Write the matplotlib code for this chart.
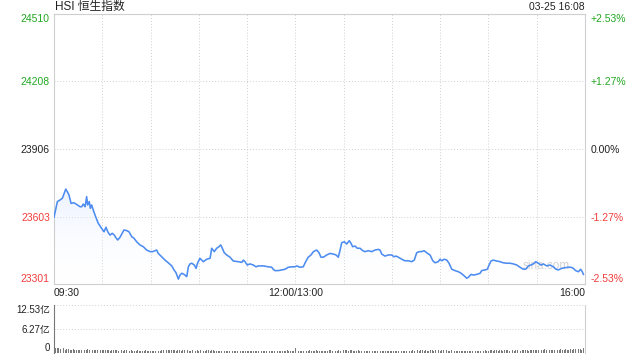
#!/usr/bin/env python3
"""HSI intraday chart (03-25) with minute volume panel."""

import numpy as np
import matplotlib
matplotlib.use("Agg")
import matplotlib.pyplot as plt
from matplotlib.colors import LinearSegmentedColormap

plt.rcParams["font.family"] = ["Liberation Sans", "Noto Sans CJK SC", "DejaVu Sans"]

# trading minutes since 09:30 (12:00 and 13:00 share minute 150)
minutes = [
    0, 2.1, 3.7, 5.2, 7.3, 8.3, 9.3, 10.6, 12.0, 13.1, 14.5, 16.2, 17.2, 18.2, 19.3,
    20.3, 20.9, 21.9, 22.6, 23.4, 24.4, 25.9, 27.5, 29.6, 31.1, 32.3, 33.4, 34.8,
    36.2, 37.5, 38.3, 39.6, 41.0, 42.4, 43.5, 45.2, 46.6, 48.3, 49.7, 51.4, 53.4,
    55.5, 57.6, 59.7, 61.3, 62.8, 63.8, 64.8, 66.9, 69.0, 71.0, 73.2, 74.6, 75.8,
    77.3, 78.3, 79.4, 80.4, 81.4, 82.5, 83.5, 84.5, 85.6, 87.2, 88.3, 89.3, 90.7,
    92.8, 94.9, 97.0, 98.0, 99.6, 101.1, 102.5, 103.6, 104.6, 105.8, 107.3, 109.4,
    111.4, 114.5, 116.7, 117.7, 118.7, 120.1, 121.8, 123.9, 125.5, 127.0, 130.1,
    133.2, 135.3, 136.3, 137.3, 139.4, 141.5, 143.6, 145.6, 147.7, 149.8, 150.8,
    152.9, 154.9, 156.4, 158.0, 159.7, 161.2, 163.3, 164.7, 165.9, 167.4, 169.5,
    171.5, 173.6, 175.3, 176.7, 177.8, 178.8, 180.4, 181.9, 183.5, 184.6, 185.6,
    187.1, 188.5, 190.2, 191.9, 193.3, 195.3, 197.5, 199.5, 201.6, 202.6, 203.7,
    205.7, 207.8, 209.9, 211.3, 212.6, 214.0, 216.1, 218.1, 220.2, 222.3, 223.9,
    225.4, 227.0, 228.5, 230.0, 231.6, 233.7, 235.4, 236.8, 238.8, 239.9, 241.0,
    242.4, 244.1, 245.5, 247.2, 249.2, 251.3, 253.0, 255.0, 256.5, 257.5, 259.2,
    260.6, 262.7, 264.8, 265.8, 267.9, 269.3, 270.4, 271.6, 273.0, 275.1, 277.2,
    279.2, 281.4, 283.4, 285.5, 287.6, 289.6, 291.7, 293.3, 294.8, 296.4, 297.9,
    299.4, 301.0, 302.7, 304.1, 306.2, 308.3, 310.3, 312.0, 313.4, 315.5, 317.6,
    319.6, 321.3, 322.8, 324.2, 325.9, 327.3, 328.3, 329.0,
]
price = [
    23600, 23670, 23677, 23685, 23726, 23714, 23700, 23662, 23665, 23662, 23655,
    23647, 23647, 23659, 23647, 23692, 23655, 23670, 23640, 23655, 23632, 23602,
    23573, 23550, 23535, 23555, 23535, 23520, 23528, 23520, 23510, 23498, 23510,
    23528, 23543, 23540, 23535, 23513, 23506, 23490, 23476, 23468, 23453, 23446,
    23446, 23450, 23453, 23438, 23423, 23408, 23396, 23382, 23364, 23352, 23323,
    23341, 23349, 23346, 23341, 23334, 23378, 23391, 23394, 23386, 23371, 23396,
    23416, 23401, 23412, 23416, 23461, 23446, 23461, 23468, 23476, 23461, 23441,
    23431, 23421, 23404, 23401, 23398, 23408, 23401, 23386, 23391, 23386, 23378,
    23382, 23382, 23378, 23376, 23367, 23361, 23361, 23364, 23367, 23376, 23378,
    23378, 23382, 23376, 23378, 23401, 23421, 23431, 23446, 23453, 23441, 23421,
    23421, 23431, 23438, 23435, 23431, 23421, 23453, 23486, 23490, 23480, 23495,
    23483, 23468, 23471, 23461, 23461, 23450, 23446, 23450, 23446, 23453, 23456,
    23453, 23435, 23426, 23431, 23431, 23423, 23426, 23421, 23412, 23405, 23405,
    23401, 23408, 23441, 23446, 23446, 23450, 23441, 23431, 23405, 23396, 23401,
    23412, 23405, 23412, 23408, 23394, 23367, 23361, 23356, 23349, 23337, 23327,
    23331, 23344, 23341, 23344, 23349, 23361, 23364, 23367, 23386, 23404, 23408,
    23404, 23401, 23396, 23394, 23394, 23391, 23386, 23376, 23367, 23368, 23382,
    23386, 23391, 23401, 23394, 23386, 23391, 23382, 23386, 23378, 23367, 23364,
    23371, 23374, 23376, 23376, 23371, 23361, 23356, 23367, 23356, 23344,
]

# volume per minute, in 亿 (minute 0 is the opening auction, 330 the closing one)
volume = [12.53] + [
    1.4, 1.2, 1.3, 1.1, 1.0, 1.2, 0.9, 1.0, 1.1, 0.8, 0.9, 1.0, 0.8, 0.9, 0.7,
    0.8, 0.9, 0.8, 0.7, 0.9, 1.0, 0.8, 0.7, 0.8, 0.9, 0.7, 0.8, 0.9, 0.8, 0.7,
    0.8, 0.7, 0.9, 0.8, 0.6, 0.7, 0.8, 0.9, 0.7, 0.6, 0.8, 0.7, 0.6, 0.7, 0.8,
    0.6, 0.5, 0.7, 0.6, 0.5, 0.6, 0.7, 0.5, 0.6, 0.5, 0.6, 0.7, 0.5, 0.4, 0.5,
    0.5, 0.6, 0.4, 0.5, 0.6, 0.5, 0.7, 0.8, 0.6, 0.7, 0.8, 0.7, 0.9, 0.8, 0.7,
    0.6, 0.8, 0.7, 0.6, 0.7, 0.8, 0.6, 0.7, 0.6, 0.5, 0.7, 0.8, 0.6, 0.7, 0.6,
    0.7, 0.6, 0.5, 0.6, 0.7, 0.8, 0.6, 0.7, 0.9, 0.6, 0.5, 0.6, 0.4, 0.5, 0.6,
    0.5, 0.4, 0.6, 0.5, 0.7, 0.6, 0.5, 0.6, 0.4, 0.5, 0.6, 0.5, 0.4, 0.5, 0.6,
    0.5, 0.4, 0.5, 0.4, 0.5, 0.6, 0.4, 0.5, 0.4, 0.5, 0.4, 0.5, 0.4, 0.4, 0.5,
    0.4, 0.5, 0.6, 0.5, 0.4, 0.5, 0.6, 0.5, 0.6, 0.7, 0.5, 0.6, 0.5, 0.6, 1.2,
    0.6, 0.5, 0.6, 0.5, 0.4, 0.5, 0.6, 0.5, 0.7, 0.6, 0.5, 0.6, 0.7, 0.5, 0.6,
    0.5, 0.4, 0.5, 0.6, 0.5, 0.7, 0.8, 0.6, 0.7, 0.5, 0.6, 0.7, 0.6, 0.8, 0.7,
    0.8, 0.7, 0.6, 0.8, 0.7, 0.6, 0.5, 0.6, 0.7, 0.5, 0.6, 0.5, 0.4, 0.5, 0.6,
    0.5, 0.4, 0.5, 0.4, 0.5, 0.6, 0.4, 0.5, 0.4, 0.5, 0.6, 0.5, 0.4, 0.5, 0.4,
    0.5, 0.4, 0.5, 0.6, 0.4, 0.5, 0.4, 0.5, 0.4, 0.5, 0.6, 0.5, 0.7, 0.6, 0.8,
    0.7, 0.6, 0.8, 0.7, 0.6, 0.7, 0.5, 0.6, 0.8, 0.7, 0.6, 0.8, 0.7, 0.9, 0.6,
    0.7, 0.8, 0.6, 0.7, 0.5, 0.6, 0.7, 0.5, 0.6, 0.5, 0.6, 0.4, 0.5, 0.6, 0.5,
    0.4, 0.5, 0.6, 0.4, 0.5, 0.6, 0.5, 0.4, 0.5, 0.6, 0.5, 0.6, 0.7, 0.5, 0.6,
    0.7, 0.8, 0.6, 0.7, 0.9, 0.6, 0.8, 0.7, 0.6, 0.8, 0.7, 0.9, 0.6, 0.7, 0.8,
    0.6, 0.7, 0.9, 0.8, 0.6, 0.7, 0.8, 0.9, 0.7, 0.6, 0.8, 0.9, 0.7, 0.8, 0.9,
    0.8, 0.7, 0.9, 0.8, 1.0, 0.7, 0.8, 0.9, 0.8, 0.7, 0.9, 1.0, 0.8, 0.9, 1.0,
    0.8, 0.9, 1.1, 0.9, 0.8, 1.0, 0.9, 1.1, 1.0, 0.9, 1.1, 1.0, 0.9, 1.2, 4.2,
]

price_ticks = [23301, 23603, 23906, 24208, 24510]
price_labels = ["23301", "23603", "23906", "24208", "24510"]
pct_labels = ["-2.53%", "-1.27%", "0.00%", "+1.27%", "+2.53%"]
x_tick_minutes = [0, 150, 330]
x_tick_labels = ["09:30", "12:00/13:00", "16:00"]
vol_ticks = [0, 6.27, 12.53]
vol_labels = ["0", "6.27亿", "12.53亿"]
title = "HSI 恒生指数"
stamp = "03-25 16:08"

GREEN = "#22a822"
RED = "#f23c3c"
DARK = "#222222"
GRID = "#cfcfcf"
LINE = "#4d8cf0"
label_colors = [RED, RED, DARK, GREEN, GREEN]

fig = plt.figure(figsize=(6.4, 3.6), dpi=100)
ax = fig.add_axes([54 / 640, 1 - 284 / 360, 531 / 640, 270 / 360])
axv = fig.add_axes([54 / 640, 1 - 353 / 360, 531 / 640, 48 / 360])

# price panel
ax.set_xlim(0, 330)
ax.set_ylim(price_ticks[0], price_ticks[-1])
ax.plot(minutes, price, color=LINE, linewidth=1.15, zorder=3)

fill = ax.fill_between(minutes, price, price_ticks[0], color="none")
cmap = LinearSegmentedColormap.from_list("fade", [(1, 1, 1, 0), (0.86, 0.91, 1.0, 0.55)])
grad = ax.imshow(np.linspace(0, 1, 256).reshape(-1, 1), cmap=cmap, aspect="auto",
                 origin="lower", extent=[0, 330, price_ticks[0], max(price)], zorder=2)
grad.set_clip_path(fill.get_paths()[0], transform=ax.transData)

ax.set_yticks(price_ticks)
ax.set_yticklabels(price_labels, fontsize=7.5)
for lbl, col in zip(ax.get_yticklabels(), label_colors):
    lbl.set_color(col)
ax.get_yticklabels()[0].set_va("bottom")
ax.get_yticklabels()[-1].set_va("top")

ax.set_xticks(np.arange(0, 331, 30))
ax.set_xticklabels([x_tick_labels[x_tick_minutes.index(m)] if m in x_tick_minutes else ""
                    for m in range(0, 331, 30)], fontsize=7.5, color=DARK)
xl = ax.get_xticklabels()
xl[0].set_ha("left")
xl[-1].set_ha("right")
ax.tick_params(length=0, pad=3)
ax.grid(True, color=GRID, linestyle=(0, (1, 2)), linewidth=0.7)
for s in ax.spines.values():
    s.set_color(GRID)
    s.set_linewidth(0.8)

axr = ax.twinx()
axr.set_ylim(ax.get_ylim())
axr.set_yticks(price_ticks)
axr.set_yticklabels(pct_labels, fontsize=7.5)
for lbl, col in zip(axr.get_yticklabels(), label_colors):
    lbl.set_color(col)
axr.get_yticklabels()[0].set_va("bottom")
axr.get_yticklabels()[-1].set_va("top")
axr.tick_params(length=0, pad=4)
for s in axr.spines.values():
    s.set_visible(False)

ax.text(0.002, 1.004, title, transform=ax.transAxes, fontsize=8.5, color=DARK,
        ha="left", va="bottom")
ax.text(1.0, 1.006, stamp, transform=ax.transAxes, fontsize=7.5, color=DARK,
        ha="right", va="bottom")
ax.text(0.972, 0.045, "sina.com", transform=ax.transAxes, fontsize=8.5,
        color="#d0d0d0", ha="right", va="bottom", zorder=1)

# volume panel
axv.set_xlim(0, 330)
axv.set_ylim(0, vol_ticks[-1])
axv.bar(np.arange(len(volume)), volume, width=0.55, color="#7a7a7a", linewidth=0)
axv.set_xticks([])
axv.set_yticks(vol_ticks)
axv.set_yticklabels(vol_labels, fontsize=7, color=DARK)
axv.get_yticklabels()[0].set_va("bottom")
axv.get_yticklabels()[-1].set_va("top")
axv.tick_params(length=0, pad=3)
axv.yaxis.grid(True, color=GRID, linestyle=(0, (1, 2)), linewidth=0.7)
axv.set_axisbelow(True)
axv.spines["top"].set_visible(False)
axv.spines["bottom"].set_visible(False)
axv.spines["left"].set_color("#777777")
axv.spines["right"].set_color(GRID)

fig.savefig("out.png", dpi=100)
plt.close(fig)
